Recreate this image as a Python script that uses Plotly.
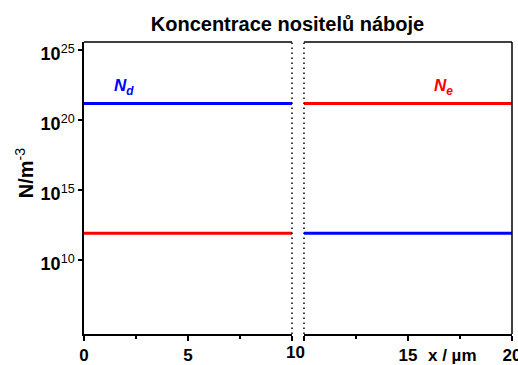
import plotly.graph_objects as go

# Carrier concentrations across the junction (m^-3)
x_left = [0, 10]
x_right = [10, 20]
n_donor_left = [1.5e21, 1.5e21]      # N_d in the n-side
n_minor_left = [8e11, 8e11]          # minority carriers in the n-side
n_major_right = [1.5e21, 1.5e21]     # N_e in the p-side
n_minor_right = [8e11, 8e11]         # minority carriers in the p-side

x_ticks_left = [0, 5, 10]
x_ticks_right = [10, 15, 20]
x_minor_left = [2.5, 7.5]
x_minor_right = [12.5, 17.5]
y_ticks = [1e10, 1e15, 1e20, 1e25]
y_tick_text = ["<b>10</b><sup>10</sup>", "<b>10</b><sup>15</sup>",
               "<b>10</b><sup>20</sup>", "<b>10</b><sup>25</sup>"]

FONT = "Liberation Sans, Arial, sans-serif"
BLUE = "#0000ff"
RED = "#ff0000"

fig = go.Figure()
fig.add_trace(go.Scatter(x=x_left, y=n_donor_left, mode="lines",
                         line=dict(color=BLUE, width=3), xaxis="x", yaxis="y"))
fig.add_trace(go.Scatter(x=x_left, y=n_minor_left, mode="lines",
                         line=dict(color=RED, width=3), xaxis="x", yaxis="y"))
fig.add_trace(go.Scatter(x=x_right, y=n_major_right, mode="lines",
                         line=dict(color=RED, width=3), xaxis="x2", yaxis="y"))
fig.add_trace(go.Scatter(x=x_right, y=n_minor_right, mode="lines",
                         line=dict(color=BLUE, width=3), xaxis="x2", yaxis="y"))


def x_axis(domain, rng, ticks, labels, minor_ticks):
    return dict(domain=domain, range=rng, anchor="y", automargin=False,
                showline=True, linecolor="black", linewidth=1.5,
                ticks="outside", ticklen=5, tickwidth=1.5, tickcolor="black",
                showgrid=False, zeroline=False,
                tickmode="array", tickvals=ticks, ticktext=labels,
                ticklabeloverflow="allow",
                tickfont=dict(family=FONT, size=17, color="black", weight="bold"),
                minor=dict(tickmode="array", tickvals=minor_ticks, ticks="outside",
                           ticklen=3, tickwidth=1.5, tickcolor="black",
                           showgrid=False))


fig.update_layout(
    width=518, height=365,
    margin=dict(l=84, r=6, t=42, b=31, autoexpand=False),
    paper_bgcolor="white", plot_bgcolor="white",
    showlegend=False,
    title=dict(text="Koncentrace nositelů náboje", xref="container", yref="container",
               x=0.555, y=0.935, xanchor="center", yanchor="middle",
               font=dict(family=FONT, size=20, color="black", weight="bold")),
    xaxis=x_axis([0, 0.486], [0, 10], x_ticks_left, ["0", "5", ""], x_minor_left),
    xaxis2=x_axis([0.514, 1], [10, 20], x_ticks_right, ["", "15", "20"], x_minor_right),
    yaxis=dict(type="log", range=[4.71, 25.57], anchor="x", automargin=False,
               showline=True, linecolor="black", linewidth=1.5,
               ticks="outside", ticklen=4, tickwidth=1.5, tickcolor="black",
               showgrid=False, zeroline=False,
               tickvals=y_ticks, ticktext=y_tick_text, ticklabelshift=4,
               tickfont=dict(family=FONT, size=18, color="black")),
)

# Panel frames: solid outer edges, dotted edges at the junction
solid = dict(color="black", width=1.5)
dotted = dict(color="black", width=1.5, dash="1.5px,3.5px")
fig.add_shape(type="line", xref="x domain", yref="y domain", x0=0, x1=1, y0=1, y1=1, line=solid)
fig.add_shape(type="line", xref="x2 domain", yref="y domain", x0=0, x1=1, y0=1, y1=1, line=solid)
fig.add_shape(type="line", xref="x2 domain", yref="y domain", x0=1, x1=1, y0=0, y1=1, line=solid)
fig.add_shape(type="line", xref="x domain", yref="y domain", x0=1, x1=1, y0=0, y1=1, line=dotted)
fig.add_shape(type="line", xref="x2 domain", yref="y domain", x0=0, x1=0, y0=0, y1=1, line=dotted)

fig.add_annotation(text="<b>10</b>", xref="paper", yref="paper", x=0.495, y=0,
                   xanchor="center", yanchor="top", yshift=-7, showarrow=False,
                   font=dict(family=FONT, size=17, color="black"))
fig.add_annotation(text="<b>x / µm</b>", xref="paper", yref="paper", x=0.861, y=-0.072,
                   xanchor="center", yanchor="middle", showarrow=False, borderpad=0,
                   font=dict(family=FONT, size=17, color="black"))
fig.add_annotation(text="<b>N/m</b><sup>-3</sup>", xref="paper", yref="paper",
                   x=-0.140, y=0.551, xanchor="center", yanchor="middle",
                   textangle=-90, showarrow=False,
                   font=dict(family=FONT, size=20, color="black"))
fig.add_annotation(text="<b><i>N</i></b><sub><b><i>d</i></b></sub>", xref="paper", yref="paper",
                   x=0.093, y=0.846, xanchor="center", yanchor="middle", showarrow=False,
                   font=dict(family=FONT, size=17, color=BLUE))
fig.add_annotation(text="<b><i>N</i></b><sub><b><i>e</i></b></sub>", xref="paper", yref="paper",
                   x=0.841, y=0.846, xanchor="center", yanchor="middle", showarrow=False,
                   font=dict(family=FONT, size=17, color=RED))

fig.write_html("out.html")
